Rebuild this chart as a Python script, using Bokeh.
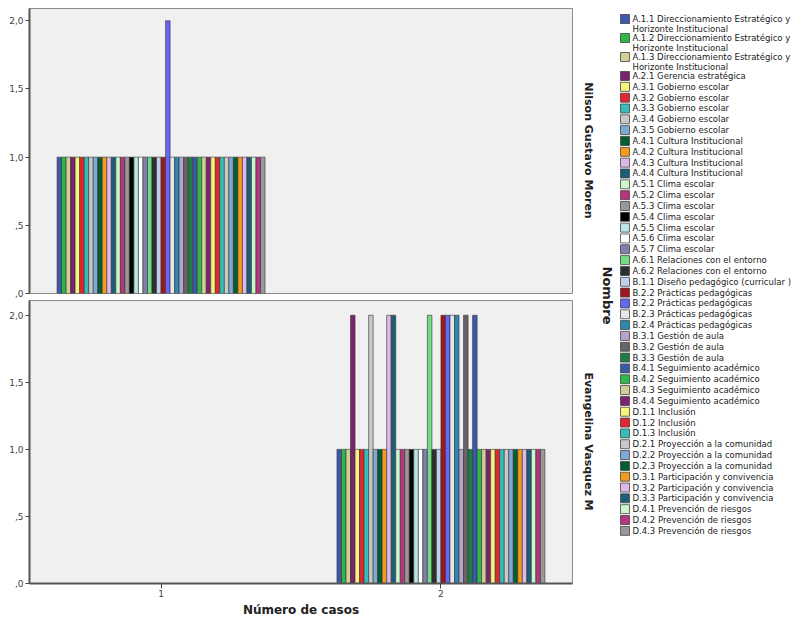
import math
from bokeh.plotting import figure
from bokeh.layouts import row, column
from bokeh.models import Range1d, FixedTicker, ColumnDataSource
from bokeh.embed import file_html
from bokeh.resources import INLINE
from bokeh.core.properties import value

# ---------------- data ----------------
categorias = [
    "A.1.1 Direccionamiento Estratégico y\nHorizonte Institucional",
    "A.1.2 Direccionamiento Estratégico y\nHorizonte Institucional",
    "A.1.3 Direccionamiento Estratégico y\nHorizonte Institucional",
    "A.2.1 Gerencia estratégica",
    "A.3.1 Gobierno escolar",
    "A.3.2 Gobierno escolar",
    "A.3.3 Gobierno escolar",
    "A.3.4 Gobierno escolar",
    "A.3.5 Gobierno escolar",
    "A.4.1 Cultura Institucional",
    "A.4.2 Cultura Institucional",
    "A.4.3 Cultura Institucional",
    "A.4.4 Cultura Institucional",
    "A.5.1 Clima escolar",
    "A.5.2 Clima escolar",
    "A.5.3 Clima escolar",
    "A.5.4 Clima escolar",
    "A.5.5 Clima escolar",
    "A.5.6 Clima escolar",
    "A.5.7 Clima escolar",
    "A.6.1 Relaciones con el entorno",
    "A.6.2 Relaciones con el entorno",
    "B.1.1 Diseño pedagógico (curricular )",
    "B.2.2 Prácticas pedagógicas",
    "B.2.2 Prácticas pedagógicas",
    "B.2.3 Prácticas pedagógicas",
    "B.2.4 Prácticas pedagógicas",
    "B.3.1 Gestión de aula",
    "B.3.2 Gestión de aula",
    "B.3.3 Gestión de aula",
    "B.4.1 Seguimiento académico",
    "B.4.2 Seguimiento académico",
    "B.4.3 Seguimiento académico",
    "B.4.4 Seguimiento académico",
    "D.1.1 Inclusión",
    "D.1.2 Inclusión",
    "D.1.3 Inclusión",
    "D.2.1 Proyección a la comunidad",
    "D.2.2 Proyección a la comunidad",
    "D.2.3 Proyección a la comunidad",
    "D.3.1 Participación y convivencia",
    "D.3.2 Participación y convivencia",
    "D.3.3 Participación y convivencia",
    "D.4.1 Prevención de riesgos",
    "D.4.2 Prevención de riesgos",
    "D.4.3 Prevención de riesgos",
]

nombres = ["Nilson Gustavo Moren", "Evangelina Vasquez M"]
casos = [1, 2]

valores_nilson = [1, 1, 1, 1, 1, 1, 1, 1, 1, 1, 1, 1, 1, 1, 1, 1, 1, 1, 1, 1, 1, 1, 1,
                  1, 2, 1, 1, 1, 1, 1, 1, 1, 1, 1, 1, 1, 1, 1, 1, 1, 1, 1, 1, 1, 1, 1]
valores_evangelina = [1, 1, 1, 2, 1, 1, 1, 2, 1, 1, 1, 2, 2, 1, 1, 1, 1, 1, 1, 1, 2, 1, 1,
                      2, 2, 2, 2, 1, 2, 1, 2, 1, 1, 1, 1, 1, 1, 1, 1, 1, 1, 1, 1, 1, 1, 1]

y_ticks = [0, 0.5, 1.0, 1.5, 2.0]
y_tick_labels = [",0", ",5", "1,0", "1,5", "2,0"]
x_ticks = [1, 2]
x_tick_labels = ["1", "2"]

paleta = [
    "#3E58AC", "#2EB848", "#D3CE97", "#7C2270", "#F4F57A", "#E6242F", "#37BDB8",
    "#C8C8C8", "#7FA8D5", "#035F33", "#F49A1C", "#DCB9E9", "#1B5F76", "#CCF5CC",
    "#B6357E", "#999999", "#000000", "#B8E6E6", "#FFFFFF", "#7F7FAD", "#70DC84",
    "#2F2F2F", "#BCD2EA", "#A1151E", "#6666F5", "#E6E6E6", "#2C8AAE", "#B7A4CC",
    "#666666", "#1B7E45",
]

n = len(categorias)
colores = [paleta[i % len(paleta)] for i in range(n)]
ancho_grupo = 0.743
bw = ancho_grupo / n

FONT = "DejaVu Sans"


def panel(caso, valores, ytop, frame_h, top_border, bottom_border, show_x):
    xs = [caso + (i - (n - 1) / 2) * bw for i in range(n)]
    src = ColumnDataSource(dict(x=xs, top=valores, color=colores, cat=categorias))
    p = figure(frame_width=543, frame_height=frame_h,
               x_range=Range1d(0.53, 2.47), y_range=Range1d(0, ytop),
               output_backend="svg", toolbar_location=None,
               min_border_left=29, min_border_right=1,
               min_border_top=top_border, min_border_bottom=bottom_border)
    p.vbar(x="x", top="top", bottom=0, width=bw, fill_color="color",
           line_color="#333333", line_width=0.6, source=src)
    p.background_fill_color = "#F0F0F0"
    p.border_fill_color = "white"
    p.outline_line_color = "#8A8A8A"
    p.outline_line_width = 1
    p.grid.visible = False
    p.yaxis.ticker = FixedTicker(ticks=y_ticks)
    p.yaxis.major_label_overrides = {t: l for t, l in zip(y_ticks, y_tick_labels)}
    p.yaxis.minor_tick_line_color = None
    p.yaxis.major_tick_out = 4
    p.yaxis.major_tick_in = 0
    p.yaxis.major_label_standoff = 2
    p.yaxis.axis_line_color = "#555555"
    p.yaxis.axis_line_width = 2
    p.yaxis.major_tick_line_color = "#444444"
    p.yaxis.major_label_text_font = FONT
    p.yaxis.major_label_text_font_size = "9px"
    p.yaxis.major_label_text_color = "#444444"
    if show_x:
        p.xaxis.ticker = FixedTicker(ticks=x_ticks)
        p.xaxis.major_label_overrides = {t: l for t, l in zip(x_ticks, x_tick_labels)}
        p.xaxis.minor_tick_line_color = None
        p.xaxis.major_tick_out = 5
        p.xaxis.major_tick_in = 0
        p.xaxis.major_label_standoff = 1
        p.xaxis.axis_line_color = "#555555"
        p.xaxis.axis_line_width = 2
        p.xaxis.major_tick_line_color = "#444444"
        p.xaxis.major_label_text_font = FONT
        p.xaxis.major_label_text_font_size = "9px"
        p.xaxis.major_label_text_color = "#444444"
        p.xaxis.axis_label = "Número de casos"
        p.xaxis.axis_label_text_font = FONT
        p.xaxis.axis_label_text_font_style = "bold"
        p.xaxis.axis_label_text_font_size = "12px"
        p.xaxis.axis_label_text_color = "#222222"
        p.xaxis.axis_label_standoff = 3
    else:
        p.xaxis.visible = False
    return p


p1 = panel(casos[0], valores_nilson, 2.09, 285, 8, 6, False)
p2 = panel(casos[1], valores_evangelina, 2.11, 283, 1, 0, True)

# ---------------- legend / strip labels ----------------
leg = figure(width=237, height=618, x_range=Range1d(573, 810), y_range=Range1d(618, 0),
             output_backend="svg", toolbar_location=None, min_border=0)
leg.axis.visible = False
leg.grid.visible = False
leg.outline_line_color = None
leg.background_fill_color = "white"
leg.border_fill_color = "white"

tops = []
y = 14.0
for c in categorias:
    tops.append(y)
    y += 19.0 if "\n" in c else 10.83

sw_src = ColumnDataSource(dict(x=[624.5] * n, y=[t + 4.5 for t in tops], color=colores))
leg.rect(x="x", y="y", width=9, height=9, fill_color="color", line_color="#444444",
         line_width=0.8, source=sw_src)
tx_src = ColumnDataSource(dict(x=[632] * n, y=[t - 0.5 for t in tops], text=categorias))
leg.text(x="x", y="y", text="text", source=tx_src, text_font=value(FONT),
         text_font_size="8.5px", text_baseline="top", text_align="left",
         text_color="#222222", text_line_height=0.95)

strip_src = ColumnDataSource(dict(x=[588, 588], y=[150, 441], text=nombres))
leg.text(x="x", y="y", text="text", source=strip_src, angle=-math.pi / 2,
         text_font=value(FONT), text_font_style="bold", text_font_size="11px",
         text_align="center", text_baseline="middle", text_color="#222222")
leg.text(x=[607], y=[295], text=["Nombre"], angle=-math.pi / 2,
         text_font=value(FONT), text_font_style="bold", text_font_size="13px",
         text_align="center", text_baseline="middle", text_color="#222222")

layout = row(column(p1, p2), leg)
open("out.html", "w").write(file_html(layout, INLINE))
